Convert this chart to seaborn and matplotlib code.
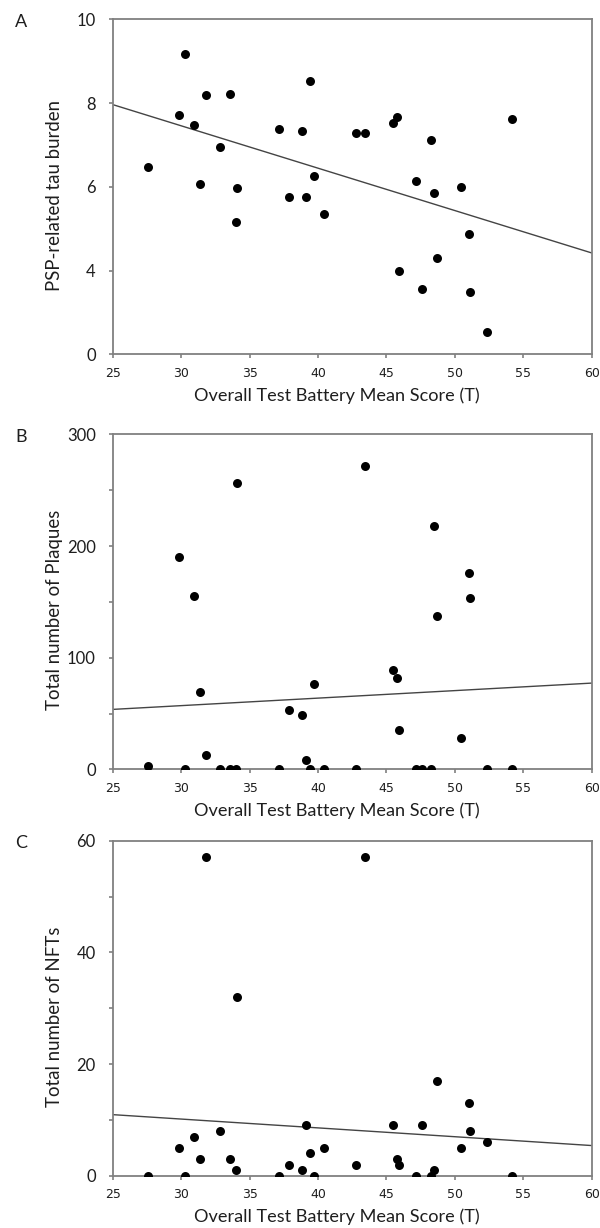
import matplotlib
matplotlib.use("Agg")
import matplotlib.pyplot as plt
import seaborn as sns
import pandas as pd
from matplotlib.ticker import MultipleLocator

# Overall Test Battery Mean Score (T), one value per case (shared by all panels)
score = [27.55, 29.87, 30.28, 30.90, 31.40, 31.79, 32.83, 33.55, 34.03, 34.11,
         37.18, 37.85, 38.81, 39.10, 39.42, 39.72, 40.45, 42.78, 43.41, 45.46,
         45.76, 45.91, 47.14, 47.58, 48.28, 48.48, 48.67, 50.43, 51.05, 51.10,
         52.33, 54.18]
# panel A (plotted on the axis as drawn in the figure)
tau = [6.47, 7.71, 9.17, 7.48, 6.06, 8.20, 6.96, 8.21, 5.17, 5.96,
       7.39, 5.76, 7.34, 5.76, 8.52, 6.25, 5.36, 7.29, 7.29, 7.52,
       7.67, 4.00, 6.14, 3.56, 7.12, 5.85, 4.31, 6.00, 4.87, 3.48,
       2.54, 7.63]
# panel B
plaques = [3, 190, 0, 155, 69, 13, 0, 0, 0, 256,
           0, 53, 49, 8, 0, 76, 0, 0, 272, 89,
           82, 35, 0, 0, 0, 218, 137, 28, 176, 153,
           0, 0]
# panel C
nfts = [0, 5, 0, 7, 3, 57, 8, 3, 1, 32,
        0, 2, 1, 9, 4, 0, 5, 2, 57, 9,
        3, 2, 0, 9, 0, 1, 17, 5, 13, 8,
        6, 0]

x_ticks = [25, 30, 35, 40, 45, 50, 55, 60]
tau_ticks = [2, 4, 6, 8, 10]
tau_labels = ['0', '4', '6', '8', '10']

df = pd.DataFrame({'score': score, 'tau': tau, 'plaques': plaques, 'nfts': nfts})

sns.set_style("ticks")
plt.rcParams['font.family'] = ['Lato', 'DejaVu Sans']

gray = '#808080'
txt = '#1e1e1e'

fig = plt.figure(figsize=(6, 12.28), dpi=100)

panels = [
    ('A', 'tau', 'PSP-related tau burden', (2, 10), tau_ticks, tau_labels, None, 0.7115),
    ('B', 'plaques', 'Total number of Plaques', (0, 300), [0, 100, 200, 300], None, 50, 0.3735),
    ('C', 'nfts', 'Total number of NFTs', (0, 60), [0, 20, 40, 60], None, 10, 0.0426),
]

for letter, col, ylab, ylim, yt, ytl, minor, bottom in panels:
    ax = fig.add_axes([0.188, bottom, 0.798, 0.2728])
    ax.set_xlim(25, 60)
    ax.set_ylim(ylim)

    sns.scatterplot(data=df, x='score', y=col, ax=ax, color='black', s=42,
                    edgecolor='black', linewidth=0, zorder=3)
    # regression line across the whole x range
    sns.regplot(data=df, x='score', y=col, ax=ax, scatter=False, ci=None,
                truncate=False, line_kws={'color': '#444444', 'lw': 1.0})
    ax.set_xlim(25, 60)
    ax.set_ylim(ylim)

    ax.set_xticks(x_ticks)
    ax.set_xticklabels([str(t) for t in x_ticks], family=['Liberation Sans Narrow', 'DejaVu Sans'],
                       fontsize=9, color=txt)
    ax.set_yticks(yt)
    if ytl is not None:
        ax.set_yticklabels(ytl)
    else:
        ax.set_yticklabels([str(t) for t in yt])
    for lab in ax.get_yticklabels():
        lab.set_fontsize(12)
        lab.set_color(txt)
    if minor:
        ax.yaxis.set_minor_locator(MultipleLocator(minor))
        ax.tick_params(axis='y', which='minor', length=2.7, width=1.2, color=gray, direction='out')

    ax.tick_params(axis='both', which='major', length=2.7, width=1.2, color=gray, direction='out')
    ax.tick_params(axis='y', pad=9.5)
    ax.tick_params(axis='x', pad=6.5)
    for sp in ax.spines.values():
        sp.set_visible(True)
        sp.set_color(gray)
        sp.set_linewidth(1.3)

    ax.set_xlabel('Overall Test Battery Mean Score (T)', fontsize=13.1, color=txt)
    ax.set_ylabel(ylab, fontsize=13.4, color=txt)
    ax.yaxis.set_label_coords(-0.104, 0.475)
    ax.xaxis.set_label_coords(0.468, -0.098)

    fig.text(0.035, bottom + 0.2728 - 0.002, letter, fontsize=13, color=txt, va='center', ha='center')

fig.savefig('out.png', dpi=100)
